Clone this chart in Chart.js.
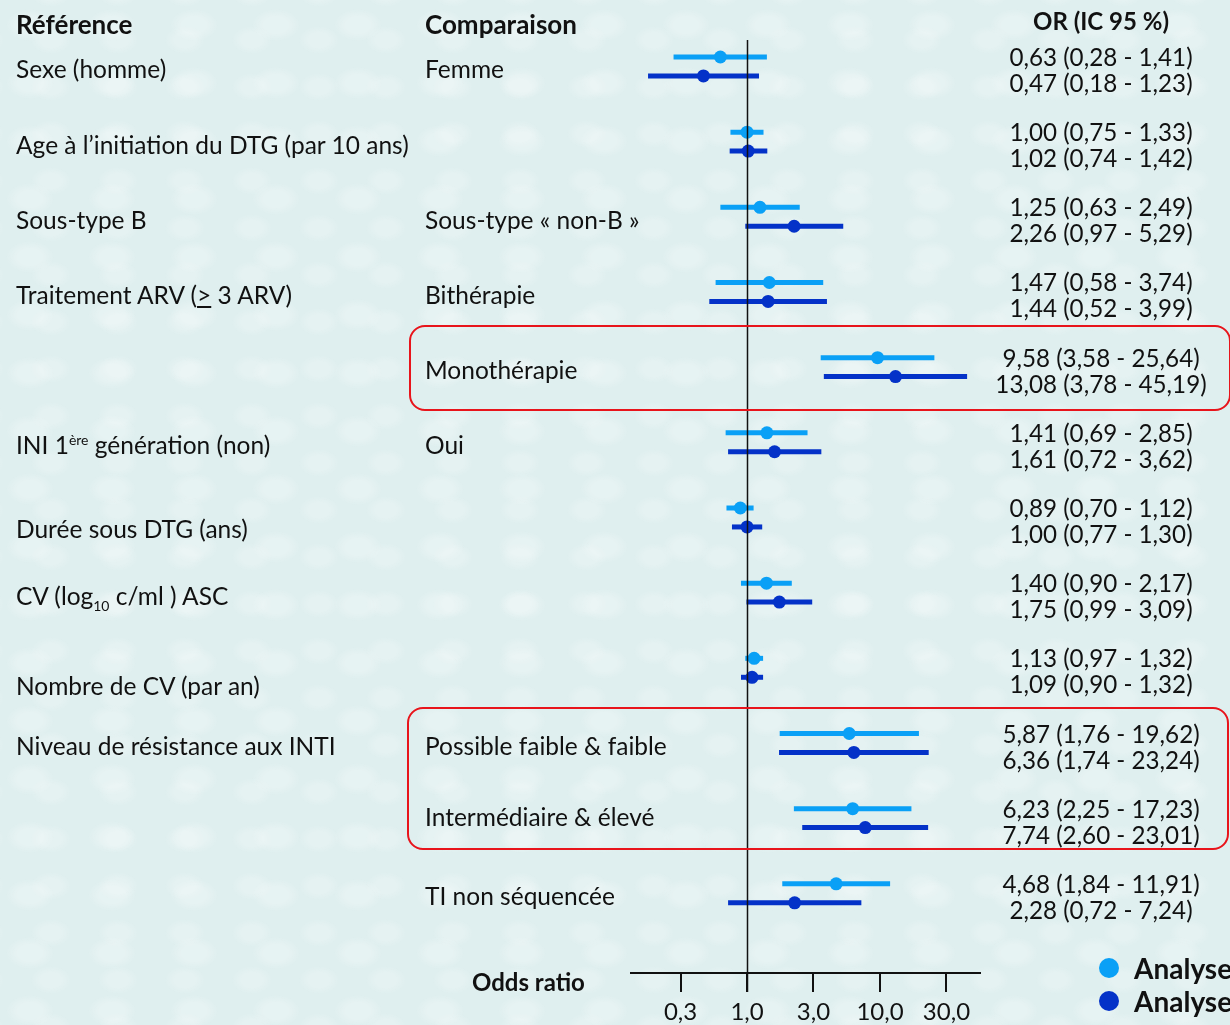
<!DOCTYPE html>
<html lang="fr">
<head>
<meta charset="utf-8">
<script src="https://cdn.jsdelivr.net/npm/chart.js@4.4.1/dist/chart.umd.min.js"></script>
<style>
  html, body { margin: 0; padding: 0; }
  body {
    width: 1230px; height: 1025px; overflow: hidden; position: relative;
    background-color: #dfefef;
    background-image:
      radial-gradient(ellipse 24px 16px at 30px 25px, rgba(255,255,255,0.22) 55%, rgba(255,255,255,0) 100%),
      radial-gradient(ellipse 20px 14px at 20px 18px, rgba(255,255,255,0.18) 55%, rgba(255,255,255,0) 100%);
    background-size: 82px 58px, 67px 47px;
    background-position: 0 0, 31px 22px;
    font-family: Lato, "Open Sans", sans-serif; color: #111;
  }
  #wrap { position: absolute; left: 0; top: 0; width: 1230px; height: 1025px; }
  .lbl { position: absolute; font-size: 24.5px; white-space: nowrap; line-height: 26px; transform: translateY(-50%); }
  .hdr { font-weight: bold; font-size: 26px; }
  .axt { font-weight: bold; font-size: 24px; }
  .orc { position: absolute; font-size: 24.2px; line-height: 26px; white-space: nowrap; transform: translateX(-50%); text-align: center; }
  .box { position: absolute; border: 2px solid #e8141b; border-radius: 16px; box-sizing: border-box; }
  .leg { position: absolute; font-size: 28px; font-weight: bold; white-space: nowrap; transform: translateY(-50%); }
  .dot { position: absolute; width: 20px; height: 20px; border-radius: 50%; transform: translate(-50%, -50%); }
  sup, sub { font-size: 14px; line-height: 0; }
</style>
</head>
<body>
<div id="wrap"><canvas id="forest"></canvas></div>
<script>
// Forest plot - odds ratios (analyse principale vs sensibilité)
const refLabels = ['Sexe (homme)', 'Age à l’initiation du DTG (par 10 ans)', 'Sous-type B',
  'Traitement ARV (<u>&gt;</u> 3 ARV)', '', 'INI 1<sup>ère</sup> génération (non)', 'Durée sous DTG (ans)',
  'CV (log<sub>10</sub> c/ml ) ASC', 'Nombre de CV (par an)', 'Niveau de résistance aux INTI', '', ''];
const compLabels = ['Femme', '', 'Sous-type « non-B »', 'Bithérapie', 'Monothérapie', 'Oui', '', '', '',
  'Possible faible &amp; faible', 'Intermédiaire &amp; élevé', 'TI non séquencée'];

const orMain = [0.63, 1.00, 1.25, 1.47, 9.58, 1.41, 0.89, 1.40, 1.13, 5.87, 6.23, 4.68];
const loMain = [0.28, 0.75, 0.63, 0.58, 3.58, 0.69, 0.70, 0.90, 0.97, 1.76, 2.25, 1.84];
const hiMain = [1.41, 1.33, 2.49, 3.74, 25.64, 2.85, 1.12, 2.17, 1.32, 19.62, 17.23, 11.91];

const orSens = [0.47, 1.02, 2.26, 1.44, 13.08, 1.61, 1.00, 1.75, 1.09, 6.36, 7.74, 2.28];
const loSens = [0.18, 0.74, 0.97, 0.52, 3.78, 0.72, 0.77, 0.99, 0.90, 1.74, 2.60, 0.72];
const hiSens = [1.23, 1.42, 5.29, 3.99, 45.19, 3.62, 1.30, 3.09, 1.32, 23.24, 23.01, 7.24];

// graduations en demi-decades, etiquetees comme sur l'original
const tickVals = [0.316, 1, 3.16, 10, 31.6];
const tickLabels = ['0,3', '1,0', '3,0', '10,0', '30,0'];
const legendLabels = ['Analyse principale', 'Analyse de sensibilité'];

const colMain = '#0aa0f6';
const colSens = '#0432c8';
const off = 0.126; // decalage vertical entre les deux analyses

const fmt = v => v.toFixed(2).replace('.', ',');

// datasets: une ligne par IC + points OR
const datasets = [];
orMain.forEach((v, i) => {
  datasets.push({ type: 'line', data: [{x: loMain[i], y: i - off}, {x: hiMain[i], y: i - off}],
    borderColor: colMain, borderWidth: 5, pointRadius: 0, borderCapStyle: 'butt' });
  datasets.push({ type: 'line', data: [{x: loSens[i], y: i + off}, {x: hiSens[i], y: i + off}],
    borderColor: colSens, borderWidth: 5, pointRadius: 0, borderCapStyle: 'butt' });
});
datasets.push({ type: 'scatter', data: orMain.map((v, i) => ({x: v, y: i - off})),
  backgroundColor: colMain, borderWidth: 0, pointRadius: 6.5 });
datasets.push({ type: 'scatter', data: orSens.map((v, i) => ({x: v, y: i + off})),
  backgroundColor: colSens, borderWidth: 0, pointRadius: 6.5 });

const refLine = {
  id: 'refLine',
  afterDatasetsDraw(chart) {
    const {ctx, chartArea, scales} = chart;
    const x = Math.round(scales.x.getPixelForValue(1)) + 0.5;
    ctx.save();
    ctx.strokeStyle = '#111';
    ctx.lineWidth = 1.5;
    ctx.beginPath();
    ctx.moveTo(x, chartArea.top);
    ctx.lineTo(x, chartArea.bottom + 19);
    ctx.stroke();
    ctx.restore();
  }
};

const myChart = new Chart(document.getElementById('forest'), {
  type: 'scatter',
  data: { datasets },
  options: {
    responsive: true,
    maintainAspectRatio: false,
    animation: false,
    layout: { padding: { left: 631, right: 250, top: 40, bottom: 0 } },
    plugins: { legend: { display: false }, tooltip: { enabled: false } },
    scales: {
      x: {
        type: 'logarithmic', min: 0.134, max: 56.5,
        afterBuildTicks: s => { s.ticks = tickVals.map(v => ({value: v})); },
        afterFit: s => { s.height = 52; },
        ticks: { callback: (v, i) => tickLabels[i], color: '#111', padding: 6, maxRotation: 0, autoSkip: false,
          font: { family: 'Lato', size: 24 } },
        grid: { drawOnChartArea: false, drawTicks: true, tickLength: 19, color: '#111', lineWidth: 2 },
        border: { display: true, color: '#111', width: 2 }
      },
      y: { type: 'linear', reverse: true, min: -0.352, max: 12.06, display: false }
    }
  },
  plugins: [refLine]
});

// textes en HTML positionnes a partir de l'echelle y
const wrap = document.getElementById('wrap');
const ys = myChart.scales.y;
const add = (cls, html, style) => {
  const d = document.createElement('div');
  d.className = cls; d.innerHTML = html;
  Object.assign(d.style, style);
  wrap.appendChild(d);
  return d;
};
const nudge = {6: 9, 8: 15, 10: -4};

add('lbl hdr', 'Référence', {left: '16px', top: '24px'});
add('lbl hdr', 'Comparaison', {left: '425px', top: '24px'});
add('orc hdr', 'OR (IC 95 %)', {left: '1101px', top: '8px', fontSize: '24px'});

refLabels.forEach((t, i) => {
  const y = ys.getPixelForValue(i) + 3 + (nudge[i] || 0);
  if (t) add('lbl', t, {left: '16px', top: y + 'px'});
  if (compLabels[i]) add('lbl', compLabels[i], {left: '425px', top: y + 'px'});
  const yTop = ys.getPixelForValue(i - off) - 13;
  add('orc', `${fmt(orMain[i])} (${fmt(loMain[i])} - ${fmt(hiMain[i])})<br>${fmt(orSens[i])} (${fmt(loSens[i])} - ${fmt(hiSens[i])})`,
    {left: '1101px', top: yTop + 'px'});
});

// cadres rouges
const y4 = ys.getPixelForValue(4), y9 = ys.getPixelForValue(9), y10 = ys.getPixelForValue(10);
add('box', '', {left: '409px', top: (y4 - 42) + 'px', width: '822px', height: '86px'});
add('box', '', {left: '407px', top: (y9 - 36) + 'px', width: '822px', height: (y10 - y9 + 68) + 'px'});

// legende et titre d'axe
add('lbl axt', 'Odds ratio', {left: '472px', top: '982px'});
[colMain, colSens].forEach((c, k) => {
  const y = 968 + k * 33;
  add('dot', '', {left: '1109px', top: y + 'px', background: c});
  add('leg', legendLabels[k], {left: '1134px', top: y + 'px'});
});
</script>
</body>
</html>
